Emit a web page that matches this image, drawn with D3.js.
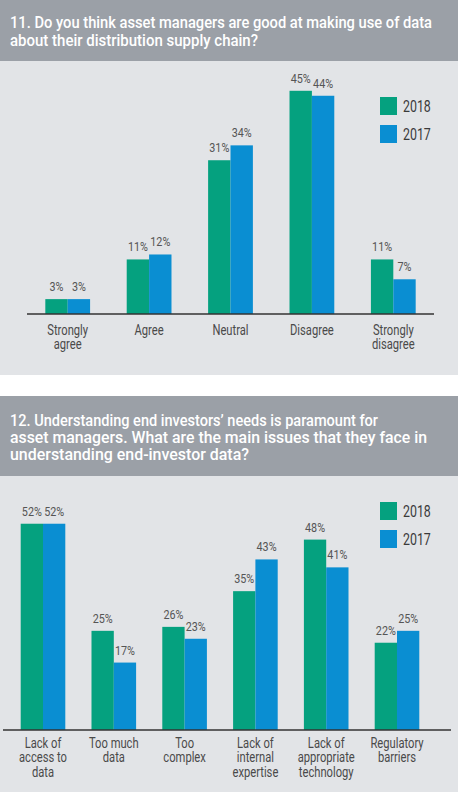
<!DOCTYPE html>
<html>
<head>
<meta charset="utf-8">
<script src="https://cdn.jsdelivr.net/npm/d3@7"></script>
<style>
  body { margin: 0; background: #fff; }
  svg { display: block; }
  .title { font-family: "Roboto", sans-serif; font-weight: 500; fill: #fff; }
  .lbl { font-family: "Roboto", sans-serif; }
</style>
</head>
<body>
<svg id="chart" width="458" height="792"></svg>
<script>
// survey data
const years = ["2018", "2017"];
const yearColors = ["#05a17f", "#0a8ed2"];

const q1Title = ["11. Do you think asset managers are good at making use of data",
                 "about their distribution supply chain?"];
const q1Categories = [["Strongly", "agree"], ["Agree"], ["Neutral"], ["Disagree"], ["Strongly", "disagree"]];
const q1Values2018 = [3, 11, 31, 45, 11];
const q1Values2017 = [3, 12, 34, 44, 7];

const q2Title = ["12. Understanding end investors\u2019 needs is paramount for",
                 "asset managers. What are the main issues that they face in",
                 "understanding end-investor data?"];
const q2Categories = [["Lack of", "access to", "data"], ["Too much", "data"], ["Too", "complex"],
                      ["Lack of", "internal", "expertise"], ["Lack of", "appropriate", "technology"],
                      ["Regulatory", "barriers"]];
const q2Values2018 = [52, 25, 26, 35, 48, 22];
const q2Values2017 = [52, 17, 23, 43, 41, 25];

const svg = d3.select("#chart");
const narrow = 0.8; // the original typeface is condensed

function drawPanel(cfg) {
  const g = svg.append("g");

  // header band
  g.append("rect")
    .attr("x", 0).attr("y", cfg.top)
    .attr("width", 458).attr("height", cfg.headerH)
    .attr("fill", "#9ba0a7");
  // body
  g.append("rect")
    .attr("x", 0).attr("y", cfg.top + cfg.headerH)
    .attr("width", 458).attr("height", cfg.bodyH)
    .attr("fill", "#e2e4e7");

  g.selectAll("text.title")
    .data(cfg.title)
    .join("text")
    .attr("class", "title")
    .attr("font-size", 17)
    .attr("x", 10)
    .attr("y", (d, i) => cfg.titleY + i * cfg.titleGap)
    .attr("textLength", (d, i) => cfg.titleW[i])
    .attr("lengthAdjust", "spacingAndGlyphs")
    .text(d => d);

  const rows = cfg.categories.map((c, i) => ({
    key: c.join(" "), lines: c, values: [cfg.v2018[i], cfg.v2017[i]]
  }));

  const x = d3.scaleBand()
    .domain(rows.map(d => d.key))
    .range(cfg.xRange)
    .paddingInner(cfg.pad)
    .paddingOuter(cfg.pad / 2);

  const xs = d3.scaleBand()
    .domain(years)
    .range([0, x.bandwidth()]);

  const y = d3.scaleLinear()
    .domain([0, cfg.yMax])
    .range([cfg.base, cfg.base - cfg.yPx]);

  const groups = g.selectAll("g.grp")
    .data(rows)
    .join("g")
    .attr("class", "grp")
    .attr("transform", d => `translate(${x(d.key)},0)`);

  const cells = groups.selectAll("g.cell")
    .data(d => d.values.map((v, i) => ({ year: years[i], v: v, i: i })))
    .join("g")
    .attr("class", "cell");

  cells.append("rect")
    .attr("x", d => xs(d.year))
    .attr("y", d => y(d.v))
    .attr("width", xs.bandwidth())
    .attr("height", d => y(0) - y(d.v))
    .attr("fill", d => yearColors[d.i]);

  cells.append("text")
    .attr("class", "lbl")
    .attr("transform", d => `translate(${xs(d.year) + xs.bandwidth() / 2},${y(d.v) - 8}) scale(${narrow},1)`)
    .attr("text-anchor", "middle")
    .attr("font-size", 13.5)
    .attr("fill", "#555")
    .text(d => d.v + "%");

  // axis with category labels
  const axis = g.append("g")
    .attr("transform", `translate(0,${y(0)})`)
    .call(d3.axisBottom(x).tickSize(0).tickFormat(""));
  axis.select(".domain").remove();
  axis.append("line")
    .attr("x1", cfg.lineX[0]).attr("x2", cfg.lineX[1])
    .attr("stroke", "#333").attr("stroke-width", 1.5);

  axis.selectAll(".tick text").remove();
  axis.selectAll(".tick")
    .data(rows)
    .append("text")
    .attr("class", "lbl")
    .attr("transform", `scale(${narrow},1)`)
    .attr("text-anchor", "middle")
    .attr("font-size", 14)
    .attr("fill", "#4a4a4a")
    .selectAll("tspan")
    .data(d => d.lines)
    .join("tspan")
    .attr("x", 0)
    .attr("y", (d, i) => cfg.labelDy + i * 14.5)
    .text(d => d);

  // legend
  const leg = g.append("g")
    .attr("transform", `translate(380,${cfg.legendY})`);
  const li = leg.selectAll("g")
    .data(years)
    .join("g")
    .attr("transform", (d, i) => `translate(0,${i * 28})`);
  li.append("rect")
    .attr("width", 17).attr("height", 18)
    .attr("fill", (d, i) => yearColors[i]);
  li.append("text")
    .attr("class", "lbl")
    .attr("transform", "translate(23,15) scale(0.75,1)")
    .attr("font-size", 16.5)
    .attr("fill", "#3a3a3a")
    .text(d => d);
}

drawPanel({
  top: 0, headerH: 61, bodyH: 314, title: q1Title, titleY: 28, titleGap: 18, titleW: [422, 248],
  categories: q1Categories, v2018: q1Values2018, v2017: q1Values2017,
  xRange: [27, 434], pad: 0.45, lineX: [27, 434],
  yMax: 50, base: 314, yPx: 248, labelDy: 21, legendY: 97
});

drawPanel({
  top: 396, headerH: 80, bodyH: 316, title: q2Title, titleY: 426, titleGap: 17, titleW: [368, 417, 239],
  categories: q2Categories, v2018: q2Values2018, v2017: q2Values2017,
  xRange: [7.6, 432.4], pad: 0.37, lineX: [3, 451],
  yMax: 60, base: 730, yPx: 238, labelDy: 18, legendY: 502
});
</script>
</body>
</html>
